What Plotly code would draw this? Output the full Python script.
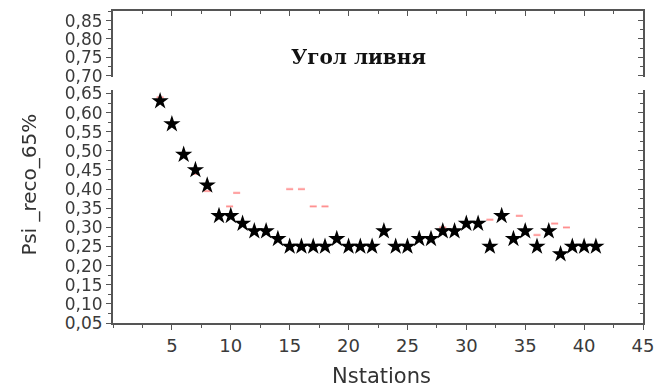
import plotly.graph_objects as go

# data
nst = [4, 5, 6, 7, 8, 9, 10, 11, 12, 13, 14, 15, 16, 17, 18, 19, 20, 21, 22, 23,
       24, 25, 26, 27, 28, 29, 30, 31, 32, 33, 34, 35, 36, 37, 38, 39, 40, 41]
psi = [0.63, 0.57, 0.49, 0.45, 0.41, 0.33, 0.33, 0.31, 0.29, 0.29, 0.27, 0.25, 0.25,
       0.25, 0.25, 0.27, 0.25, 0.25, 0.25, 0.29, 0.25, 0.25, 0.27, 0.27, 0.29, 0.29,
       0.31, 0.31, 0.25, 0.33, 0.27, 0.29, 0.25, 0.29, 0.23, 0.25, 0.25, 0.25]
# faint red marks
red_x = [4, 7, 8, 9.9, 10.5, 15, 16, 17, 18, 28, 32, 34.5, 36, 37.5, 38.5]
red_y = [0.64, 0.44, 0.395, 0.355, 0.39, 0.40, 0.40, 0.355, 0.355, 0.30, 0.32, 0.33, 0.28, 0.31, 0.30]

xticks = [5, 10, 15, 20, 25, 30, 35, 40, 45]
low_range = [0.05, 0.66]
up_range = [0.697, 0.876]

fig = go.Figure()
fig.add_trace(go.Scatter(x=red_x, y=red_y, mode="markers",
                         marker=dict(symbol="line-ew", size=5, color="red",
                                     line=dict(color="red", width=1.5)),
                         opacity=0.55, xaxis="x", yaxis="y", showlegend=False))
fig.add_trace(go.Scatter(x=nst, y=psi, mode="markers",
                         marker=dict(symbol="star", size=13, color="black"),
                         xaxis="x", yaxis="y", showlegend=False))
# dummy traces so that helper axes are drawn
for xa, ya, yv in [("x2", "y2", 0.8), ("x", "y3", 0.3), ("x2", "y4", 0.8)]:
    fig.add_trace(go.Scatter(x=[20], y=[yv], mode="markers", marker=dict(opacity=0),
                             xaxis=xa, yaxis=ya, showlegend=False, hoverinfo="skip"))

ytickfont = dict(family="DejaVu Sans", size=17, color="#3a3a3a")
xtickfont = dict(family="DejaVu Sans", size=18, color="#3a3a3a")
lowdom = [0, 0.748]
updom = [0.789, 1]
lc = "#555"

fig.update_layout(
    width=659, height=388,
    margin=dict(l=113, r=13, t=5, b=65),
    paper_bgcolor="white", plot_bgcolor="white",
    separators=", ",
    xaxis=dict(range=[0, 45], tickvals=xticks, ticks="outside", ticklen=5,
               showline=True, linecolor=lc, linewidth=2, tickcolor=lc,
               showgrid=False, zeroline=False, tickfont=xtickfont, anchor="y",
               minor=dict(dtick=2.5, tick0=0, ticks="outside", ticklen=3, tickcolor=lc)),
    xaxis2=dict(range=[0, 45], tickvals=xticks, ticks="inside", ticklen=5,
                showticklabels=False, side="top", anchor="y2", matches="x",
                showline=True, linecolor=lc, linewidth=2, tickcolor=lc,
                showgrid=False, zeroline=False,
                minor=dict(dtick=2.5, tick0=0, ticks="inside", ticklen=3, tickcolor=lc)),
    yaxis=dict(domain=lowdom, range=low_range, dtick=0.05, tick0=0.05, tickformat=".2f",
               ticks="outside", ticklen=5, showline=True, linecolor=lc, linewidth=2,
               tickcolor=lc, showgrid=False, zeroline=False, tickfont=ytickfont,
               minor=dict(dtick=0.025, ticks="outside", ticklen=3, tickcolor=lc)),
    yaxis2=dict(domain=updom, range=up_range, dtick=0.05, tick0=0.05, tickformat=".2f",
                ticks="outside", ticklen=5, showline=True, linecolor=lc, linewidth=2,
                tickcolor=lc, showgrid=False, zeroline=False, tickfont=ytickfont,
                anchor="x2",
                minor=dict(dtick=0.025, ticks="outside", ticklen=3, tickcolor=lc)),
    yaxis3=dict(domain=lowdom, range=low_range, dtick=0.05, tick0=0.05, side="right",
                overlaying="y", anchor="x", ticks="inside", ticklen=5, showticklabels=False,
                showline=True, linecolor=lc, linewidth=2, tickcolor=lc,
                showgrid=False, zeroline=False,
                minor=dict(dtick=0.025, ticks="inside", ticklen=3, tickcolor=lc)),
    yaxis4=dict(domain=updom, range=up_range, dtick=0.05, tick0=0.05, side="right",
                overlaying="y2", anchor="x2", ticks="inside", ticklen=5, showticklabels=False,
                showline=True, linecolor=lc, linewidth=2, tickcolor=lc,
                showgrid=False, zeroline=False,
                minor=dict(dtick=0.025, ticks="inside", ticklen=3, tickcolor=lc)),
    annotations=[
        dict(text="<b>Угол ливня</b>", x=0.463, y=0.852, xref="paper", yref="paper",
             xanchor="center", yanchor="middle", showarrow=False,
             font=dict(family="DejaVu Serif", size=20, color="#111")),
        dict(text="Psi _reco_65%", x=-0.159, y=0.443, xref="paper", yref="paper",
             xanchor="center", yanchor="middle", textangle=-90, showarrow=False,
             font=dict(family="DejaVu Sans", size=20, color="#333")),
        dict(text="Nstations", x=0.507, y=-0.17, xref="paper", yref="paper",
             xanchor="center", yanchor="middle", showarrow=False,
             font=dict(family="DejaVu Sans", size=21, color="#333")),
    ],
)

fig.write_html("out.html")
